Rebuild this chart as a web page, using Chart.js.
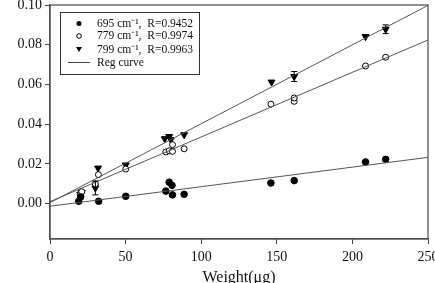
<!DOCTYPE html>
<html><head><meta charset="utf-8">
<script src="https://cdn.jsdelivr.net/npm/chart.js@4/dist/chart.umd.min.js"></script>
<style>html,body{margin:0;padding:0;background:#fff}#c{display:block}</style>
</head><body>
<canvas id="c" width="435" height="283"></canvas>
<script>
// Data
const x695 = [19, 20.3, 32.2, 50.1, 76.6, 78.8, 80.7, 81, 88.7, 146.1, 161.5, 208.7, 222];
const y695 = [0.0012, 0.0034, 0.0012, 0.0037, 0.0063, 0.0108, 0.0092, 0.0044, 0.0047, 0.0104, 0.0116, 0.021, 0.0223];
const x779 = [20, 21, 30, 32, 50.1, 76.6, 78.8, 81, 81, 88.7, 146.1, 161.5, 161.5, 208.7, 222];
const y779 = [0.0045, 0.006, 0.0099, 0.0146, 0.0174, 0.026, 0.0266, 0.0263, 0.0297, 0.0276, 0.0501, 0.0515, 0.0532, 0.0693, 0.0737];
const x799 = [20, 21, 30, 31.8, 50.1, 75.9, 78.8, 79.9, 88.7, 146.5, 161.5, 208.7, 222];
const y799 = [0.0048, 0.0056, 0.0079, 0.0179, 0.0195, 0.0327, 0.0338, 0.0322, 0.0347, 0.0612, 0.064, 0.0841, 0.0878];
const e799 = [0, 0, 0.0035, 0, 0, 0, 0, 0, 0, 0, 0.0025, 0, 0.0022];
const regX = [0, 250];
const reg695 = [-0.0013, 0.0233];
const reg779 = [0.001, 0.0824];
const reg799 = [0.0005, 0.0998];
const legendLabels = ['695 cm\u207B\u00B9,  R=0.9452', '779 cm\u207B\u00B9,  R=0.9974', '799 cm\u207B\u00B9,  R=0.9963', 'Reg curve'];
const xTicks = [0, 50, 100, 150, 200, 250];
const yTicks = [0, 0.02, 0.04, 0.06, 0.08, 0.10];

const pts = (xs, ys) => xs.map((x, i) => ({x: x, y: ys[i]}));
const FONT = '"Liberation Serif", "Times New Roman", serif';
const AX = '#444';

const frame = {
  id: 'frame',
  afterDraw(chart) {
    const a = chart.chartArea, ctx = chart.ctx;
    ctx.save();
    ctx.strokeStyle = '#555'; ctx.lineWidth = 1.3;
    ctx.strokeRect(a.left, a.top, a.right - a.left, a.bottom - a.top);
    ctx.restore();
  }
};

const errBars = {
  id: 'errBars',
  afterDatasetsDraw(chart) {
    const ctx = chart.ctx, xs = chart.scales.x, ys = chart.scales.y;
    ctx.save(); ctx.strokeStyle = '#000'; ctx.lineWidth = 1;
    x799.forEach((x, i) => {
      const e = e799[i]; if (!e) return;
      const px = xs.getPixelForValue(x);
      const p1 = ys.getPixelForValue(y799[i] - e), p2 = ys.getPixelForValue(y799[i] + e);
      ctx.beginPath();
      ctx.moveTo(px, p1); ctx.lineTo(px, p2);
      ctx.moveTo(px - 3, p1); ctx.lineTo(px + 3, p1);
      ctx.moveTo(px - 3, p2); ctx.lineTo(px + 3, p2);
      ctx.stroke();
    });
    ctx.restore();
  }
};

const boxLegend = {
  id: 'boxLegend',
  afterDraw(chart) {
    const ctx = chart.ctx, a = chart.chartArea;
    const L = a.left + 10, T = a.top + 7, W = 139, H = 62;
    ctx.save();
    ctx.fillStyle = '#fff'; ctx.fillRect(L, T, W, H);
    ctx.strokeStyle = '#333'; ctx.lineWidth = 1;
    ctx.strokeRect(L + 0.5, T + 0.5, W, H);
    ctx.font = '11.5px ' + FONT; ctx.fillStyle = '#111'; ctx.textBaseline = 'middle';
    const rows = [T + 11.5, T + 24, T + 37.5, T + 50.5];
    const sx = L + 19;
    ctx.beginPath(); ctx.arc(sx, rows[0], 2.5, 0, Math.PI * 2); ctx.fillStyle = '#000'; ctx.fill();
    ctx.beginPath(); ctx.arc(sx, rows[1], 2.3, 0, Math.PI * 2); ctx.fillStyle = '#fff'; ctx.fill();
    ctx.strokeStyle = '#000'; ctx.lineWidth = 1; ctx.stroke();
    ctx.beginPath(); ctx.moveTo(sx - 3, rows[2] - 2.5); ctx.lineTo(sx + 3, rows[2] - 2.5); ctx.lineTo(sx, rows[2] + 2.5); ctx.closePath();
    ctx.fillStyle = '#000'; ctx.fill();
    ctx.beginPath(); ctx.moveTo(L + 8, rows[3]); ctx.lineTo(L + 30, rows[3]); ctx.strokeStyle = '#444'; ctx.stroke();
    ctx.fillStyle = '#111';
    legendLabels.forEach((t, i) => ctx.fillText(t, L + 37, rows[i]));
    ctx.restore();
  }
};

new Chart(document.getElementById('c'), {
  type: 'scatter',
  data: {
    datasets: [
      {label: 'reg695', type: 'line', data: pts(regX, reg695), borderColor: '#555', borderWidth: 1, pointRadius: 0, fill: false},
      {label: 'reg779', type: 'line', data: pts(regX, reg779), borderColor: '#555', borderWidth: 1, pointRadius: 0, fill: false},
      {label: 'reg799', type: 'line', data: pts(regX, reg799), borderColor: '#555', borderWidth: 1, pointRadius: 0, fill: false},
      {label: '695', data: pts(x695, y695), pointStyle: 'circle', pointRadius: 3.3, backgroundColor: '#000', borderColor: '#000', borderWidth: 1},
      {label: '779', data: pts(x779, y779), pointStyle: 'circle', pointRadius: 3, backgroundColor: '#fff', borderColor: '#000', borderWidth: 1},
      {label: '799', data: pts(x799, y799), pointStyle: 'triangle', rotation: 180, pointRadius: 4, backgroundColor: '#000', borderColor: '#000', borderWidth: 1}
    ]
  },
  options: {
    responsive: false, animation: false,
    layout: {padding: {top: 5, right: 7, left: 0, bottom: 0}},
    plugins: {legend: {display: false}, tooltip: {enabled: false}},
    scales: {
      x: {
        type: 'linear', min: 0, max: 250,
        afterBuildTicks: s => { s.ticks = xTicks.map(v => ({value: v})); },
        afterFit: s => { s.height = 44; s.paddingLeft = 0; s.paddingRight = 0; },
        ticks: {font: {family: FONT, size: 14}, color: '#111', padding: 5, maxRotation: 0, autoSkip: false},
        grid: {drawOnChartArea: false, drawTicks: true, tickLength: 5, color: AX},
        border: {color: AX, width: 1.3},
        title: {display: true, text: 'Weight(\u03BCg)', font: {family: FONT, size: 16}, color: '#111', padding: {top: 4, bottom: -4}}
      },
      y: {
        type: 'linear', min: -0.0178, max: 0.1,
        afterBuildTicks: s => { s.ticks = yTicks.map(v => ({value: v})); },
        afterFit: s => { s.width = 50; s.paddingTop = 0; s.paddingBottom = 0; },
        ticks: {font: {family: FONT, size: 14}, color: '#111', padding: 3, callback: v => v.toFixed(2)},
        grid: {drawOnChartArea: false, drawTicks: true, tickLength: 5, color: AX},
        border: {color: AX, width: 1.3}
      }
    }
  },
  plugins: [frame, errBars, boxLegend]
});
</script>
</body></html>
